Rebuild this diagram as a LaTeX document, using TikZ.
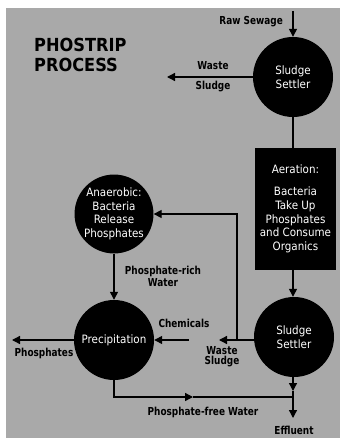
\documentclass[tikz,border=0pt]{standalone}
\usepackage{fontspec}
\setmainfont{DejaVu Sans Condensed}
\newfontfamily\labelfont[FakeStretch=0.9]{DejaVu Sans Condensed}
\usetikzlibrary{arrows.meta}
\definecolor{paper}{HTML}{A9A9A9}
\tikzset{
  tank/.style={circle, fill=black, text=white, minimum size=80pt, inner sep=0pt, align=center, font=\fontsize{11.5}{13.5}\selectfont},
  lbl/.style={font=\labelfont\bfseries\fontsize{11}{12}\selectfont, inner sep=1pt, align=center},
  flow/.style={line width=1.3pt},
  tip/.style={-{Triangle[width=8pt,length=8pt]}}
}
\begin{document}
\begin{tikzpicture}[x=1pt, y=-1pt]
\useasboundingbox (0,0) rectangle (340,438);
\fill[paper] (6,8) rectangle (340,438);
% title
\node[font=\bfseries\fontsize{18}{19.5}\selectfont, align=left, anchor=west, inner sep=0pt] (title) at (34,55) {PHOSTRIP\\PROCESS};
% tanks
\node[tank] (settlerA) at (293,77) {Sludge\\Settler};
\node[rectangle, fill=black, text=white, minimum width=81pt, minimum height=122pt, align=center, font=\fontsize{11.5}{13.8}\selectfont] (aeration) at (295.5,209) {Aeration:\\[8pt]Bacteria\\Take Up\\Phosphates\\and Consume\\Organics};
\node[tank] (settlerB) at (294,337) {Sludge\\Settler};
\node[tank, minimum size=78pt] (anaerobic) at (114,214) {Anaerobic:\\Bacteria\\Release\\Phosphates};
\node[tank] (precip) at (114,340) {Precipitation};
% free ends
\coordinate (sewage) at (293,11);
\coordinate (wasteA) at (167,77);
\coordinate (wasteB) at (219,340);
\coordinate (branch) at (237,340);
\coordinate (chem) at (189,340);
\coordinate (phos) at (12,340);
\coordinate (midfree) at (193,397);
\coordinate (join) at (293,397);
\coordinate (settledrop) at (293,391);
\coordinate (effluent) at (293,418);
% flows
\draw[flow, tip] (sewage) -- (settlerA.north);
\draw[flow, tip] (settlerA.west) -- (wasteA);
\draw[flow] (settlerA.south) -- (aeration.north -| settlerA.south);
\draw[flow, tip] (aeration.south -| settlerA.south) -- (settlerB.north -| settlerA.south);
\draw[flow, tip] (anaerobic.south) -- (precip.north);
\draw[flow, tip] (settlerB.west |- wasteB) -- (wasteB);
\draw[flow, tip] (branch) |- (anaerobic.east);
\draw[flow, tip] (chem) -- (precip.east);
\draw[flow, tip] (precip.west) -- (phos);
\draw[flow, tip] (precip.south) |- (midfree);
\draw[flow] (midfree) -- (join);
\draw[flow, tip] (settlerB.south -| join) -- (settledrop);
\draw[flow] (settledrop) -- (join);
\draw[flow, tip] (join) -- (effluent);
% labels
\node[lbl, anchor=east] (sewagetxt) at (284,22) {Raw Sewage};
\node[lbl] (wasteAtxt) at (213,66) {Waste};
\node[lbl] (sludgeAtxt) at (213,87) {Sludge};
\node[lbl] (richtxt) at (163,276) {Phosphate-rich\\Water};
\node[lbl] (chemtxt) at (184,323) {Chemicals};
\node[lbl, align=center] (wasteBtxt) at (222,357) {Waste\\[-2pt]Sludge};
\node[lbl] (phostxt) at (44,353) {Phosphates};
\node[lbl] (freetxt) at (203,412) {Phosphate-free Water};
\node[lbl] (effltxt) at (294,430) {Effluent};
\end{tikzpicture}
\end{document}
